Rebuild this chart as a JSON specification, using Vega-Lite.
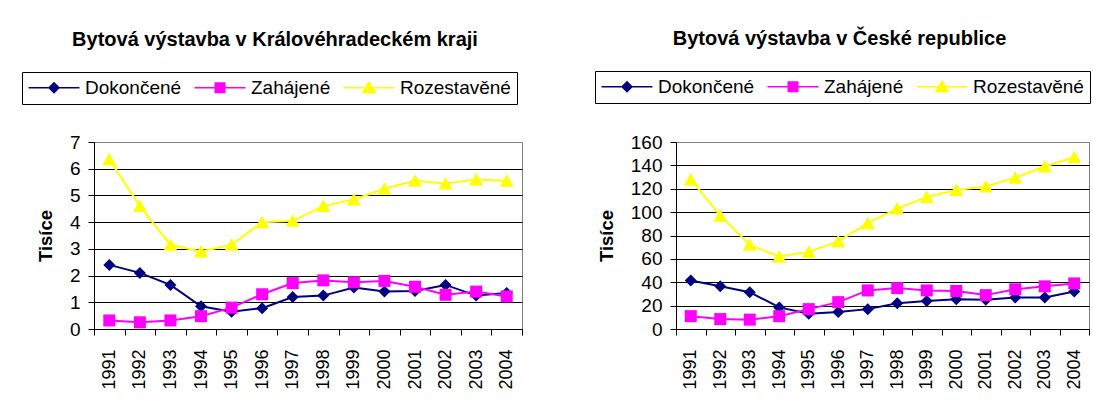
{
  "$schema": "https://vega.github.io/schema/vega-lite/v6.json",
  "padding": {"left": 21, "top": 28, "right": 0, "bottom": 0},
  "background": "white",
  "datasets": {
    "all": [
      {"region": "KHK", "year": "1991", "series": "Dokončené", "value": 2.4},
      {"region": "KHK", "year": "1992", "series": "Dokončené", "value": 2.1},
      {"region": "KHK", "year": "1993", "series": "Dokončené", "value": 1.65},
      {"region": "KHK", "year": "1994", "series": "Dokončené", "value": 0.85},
      {"region": "KHK", "year": "1995", "series": "Dokončené", "value": 0.65},
      {"region": "KHK", "year": "1996", "series": "Dokončené", "value": 0.78},
      {"region": "KHK", "year": "1997", "series": "Dokončené", "value": 1.2},
      {"region": "KHK", "year": "1998", "series": "Dokončené", "value": 1.25},
      {"region": "KHK", "year": "1999", "series": "Dokončené", "value": 1.55},
      {"region": "KHK", "year": "2000", "series": "Dokončené", "value": 1.4},
      {"region": "KHK", "year": "2001", "series": "Dokončené", "value": 1.42},
      {"region": "KHK", "year": "2002", "series": "Dokončené", "value": 1.65},
      {"region": "KHK", "year": "2003", "series": "Dokončené", "value": 1.25},
      {"region": "KHK", "year": "2004", "series": "Dokončené", "value": 1.35},
      {"region": "KHK", "year": "1991", "series": "Zahájené", "value": 0.32},
      {"region": "KHK", "year": "1992", "series": "Zahájené", "value": 0.25},
      {"region": "KHK", "year": "1993", "series": "Zahájené", "value": 0.32},
      {"region": "KHK", "year": "1994", "series": "Zahájené", "value": 0.48},
      {"region": "KHK", "year": "1995", "series": "Zahájené", "value": 0.8},
      {"region": "KHK", "year": "1996", "series": "Zahájené", "value": 1.3},
      {"region": "KHK", "year": "1997", "series": "Zahájené", "value": 1.72},
      {"region": "KHK", "year": "1998", "series": "Zahájené", "value": 1.82},
      {"region": "KHK", "year": "1999", "series": "Zahájené", "value": 1.75},
      {"region": "KHK", "year": "2000", "series": "Zahájené", "value": 1.8},
      {"region": "KHK", "year": "2001", "series": "Zahájené", "value": 1.58},
      {"region": "KHK", "year": "2002", "series": "Zahájené", "value": 1.28},
      {"region": "KHK", "year": "2003", "series": "Zahájené", "value": 1.4},
      {"region": "KHK", "year": "2004", "series": "Zahájené", "value": 1.22},
      {"region": "KHK", "year": "1991", "series": "Rozestavěné", "value": 6.35},
      {"region": "KHK", "year": "1992", "series": "Rozestavěné", "value": 4.6},
      {"region": "KHK", "year": "1993", "series": "Rozestavěné", "value": 3.15},
      {"region": "KHK", "year": "1994", "series": "Rozestavěné", "value": 2.9},
      {"region": "KHK", "year": "1995", "series": "Rozestavěné", "value": 3.15},
      {"region": "KHK", "year": "1996", "series": "Rozestavěné", "value": 4.0},
      {"region": "KHK", "year": "1997", "series": "Rozestavěné", "value": 4.05},
      {"region": "KHK", "year": "1998", "series": "Rozestavěné", "value": 4.6},
      {"region": "KHK", "year": "1999", "series": "Rozestavěné", "value": 4.85},
      {"region": "KHK", "year": "2000", "series": "Rozestavěné", "value": 5.25},
      {"region": "KHK", "year": "2001", "series": "Rozestavěné", "value": 5.55},
      {"region": "KHK", "year": "2002", "series": "Rozestavěné", "value": 5.45},
      {"region": "KHK", "year": "2003", "series": "Rozestavěné", "value": 5.6},
      {"region": "KHK", "year": "2004", "series": "Rozestavěné", "value": 5.55},
      {"region": "CR", "year": "1991", "series": "Dokončené", "value": 41.5},
      {"region": "CR", "year": "1992", "series": "Dokončené", "value": 36.5},
      {"region": "CR", "year": "1993", "series": "Dokončené", "value": 31.5},
      {"region": "CR", "year": "1994", "series": "Dokončené", "value": 18.5},
      {"region": "CR", "year": "1995", "series": "Dokončené", "value": 13},
      {"region": "CR", "year": "1996", "series": "Dokončené", "value": 14.5},
      {"region": "CR", "year": "1997", "series": "Dokončené", "value": 17},
      {"region": "CR", "year": "1998", "series": "Dokončené", "value": 22},
      {"region": "CR", "year": "1999", "series": "Dokončené", "value": 24},
      {"region": "CR", "year": "2000", "series": "Dokončené", "value": 25.5},
      {"region": "CR", "year": "2001", "series": "Dokončené", "value": 25},
      {"region": "CR", "year": "2002", "series": "Dokončené", "value": 27},
      {"region": "CR", "year": "2003", "series": "Dokončené", "value": 27},
      {"region": "CR", "year": "2004", "series": "Dokončené", "value": 32},
      {"region": "CR", "year": "1991", "series": "Zahájené", "value": 11},
      {"region": "CR", "year": "1992", "series": "Zahájené", "value": 8.5},
      {"region": "CR", "year": "1993", "series": "Zahájené", "value": 8},
      {"region": "CR", "year": "1994", "series": "Zahájené", "value": 11},
      {"region": "CR", "year": "1995", "series": "Zahájené", "value": 17},
      {"region": "CR", "year": "1996", "series": "Zahájené", "value": 23},
      {"region": "CR", "year": "1997", "series": "Zahájené", "value": 33},
      {"region": "CR", "year": "1998", "series": "Zahájené", "value": 35},
      {"region": "CR", "year": "1999", "series": "Zahájené", "value": 33},
      {"region": "CR", "year": "2000", "series": "Zahájené", "value": 32.5},
      {"region": "CR", "year": "2001", "series": "Zahájené", "value": 29},
      {"region": "CR", "year": "2002", "series": "Zahájené", "value": 34},
      {"region": "CR", "year": "2003", "series": "Zahájené", "value": 36.5},
      {"region": "CR", "year": "2004", "series": "Zahájené", "value": 39},
      {"region": "CR", "year": "1991", "series": "Rozestavěné", "value": 128},
      {"region": "CR", "year": "1992", "series": "Rozestavěné", "value": 97},
      {"region": "CR", "year": "1993", "series": "Rozestavěné", "value": 72},
      {"region": "CR", "year": "1994", "series": "Rozestavěné", "value": 62},
      {"region": "CR", "year": "1995", "series": "Rozestavěné", "value": 66},
      {"region": "CR", "year": "1996", "series": "Rozestavěné", "value": 75},
      {"region": "CR", "year": "1997", "series": "Rozestavěné", "value": 90.5},
      {"region": "CR", "year": "1998", "series": "Rozestavěné", "value": 103},
      {"region": "CR", "year": "1999", "series": "Rozestavěné", "value": 113},
      {"region": "CR", "year": "2000", "series": "Rozestavěné", "value": 119},
      {"region": "CR", "year": "2001", "series": "Rozestavěné", "value": 122},
      {"region": "CR", "year": "2002", "series": "Rozestavěné", "value": 129.5},
      {"region": "CR", "year": "2003", "series": "Rozestavěné", "value": 139},
      {"region": "CR", "year": "2004", "series": "Rozestavěné", "value": 147}
    ]
  },
  "data": {"name": "all"},
  "spacing": 71,
  "resolve": {"scale": {"y": "independent"}, "legend": {"color": "independent", "shape": "independent"}},
  "hconcat": [
    {
      "width": 428,
      "height": 187,
      "title": {"text": "Bytová výstavba v Královéhradeckém kraji", "anchor": "middle", "frame": "group", "dx": -33},
      "transform": [{"filter": "datum.region === 'KHK'"}],
      "encoding": {
        "x": {"field": "year", "type": "ordinal", "bandPosition": 0.5, "scale": {"type": "band", "paddingInner": 0, "paddingOuter": 0}, "axis": {"title": null}},
        "y": {"field": "value", "type": "quantitative", "scale": {"domain": [0, 7], "nice": false}, "axis": {"title": "Tisíce", "values": [0, 1, 2, 3, 4, 5, 6, 7], "titlePadding": 14, "gridColor": {"condition": {"test": "datum.value >= 7", "value": "#808080"}, "value": "black"}}},
        "color": {
          "field": "series", "type": "nominal",
          "scale": {"domain": ["Dokončené", "Zahájené", "Rozestavěné"], "range": ["#000080", "#FF00FF", "#FFFF00"]},
          "legend": {"orient": "none", "legendX": -72, "legendY": -70}
        }
      },
      "layer": [
        {"mark": {"type": "line", "strokeWidth": 2}},
        {"transform": [{"filter": {"field": "series", "equal": "Dokončené"}}], "mark": {"type": "point", "shape": "M0,-1.2L1.2,0L0,1.2L-1.2,0Z", "filled": true, "opacity": 1, "size": 100, "strokeWidth": 0}},
        {"transform": [{"filter": {"field": "series", "equal": "Zahájené"}}], "mark": {"type": "point", "shape": "M-1.2,-1.2H1.2V1.2H-1.2Z", "filled": true, "opacity": 1, "size": 100, "strokeWidth": 0}},
        {"transform": [{"filter": {"field": "series", "equal": "Rozestavěné"}}], "mark": {"type": "point", "shape": "M0,-1.3L1.4,1.2H-1.4Z", "filled": true, "opacity": 1, "size": 100, "strokeWidth": 0}},
        {
          "transform": [{"filter": "false"}],
          "mark": {"type": "point", "filled": true, "opacity": 1, "size": 100, "strokeWidth": 0},
          "encoding": {
            "shape": {
              "field": "series", "type": "nominal",
              "scale": {"domain": ["Dokončené", "Zahájené", "Rozestavěné"], "range": ["M-1.8,-0.16H8.4V0.16H-1.8ZM3.3,-1.2L4.5,0L3.3,1.2L2.1,0Z", "M-1.8,-0.16H8.4V0.16H-1.8ZM2.2,-1.1H4.4V1.1H2.2Z", "M-1.8,-0.16H8.4V0.16H-1.8ZM3.3,-1.4L4.8,1.1H1.8Z"]},
              "legend": {"orient": "none", "legendX": -72, "legendY": -70}
            }
          }
        }
      ]
    },
    {
      "width": 413,
      "height": 187,
      "title": {"text": "Bytová výstavba v České republice", "anchor": "middle", "frame": "group", "dx": -43},
      "transform": [{"filter": "datum.region === 'CR'"}],
      "encoding": {
        "x": {"field": "year", "type": "ordinal", "bandPosition": 0.5, "scale": {"type": "band", "paddingInner": 0, "paddingOuter": 0}, "axis": {"title": null}},
        "y": {"field": "value", "type": "quantitative", "scale": {"domain": [0, 160], "nice": false}, "axis": {"title": "Tisíce", "values": [0, 20, 40, 60, 80, 100, 120, 140, 160], "titlePadding": 14, "gridColor": {"condition": {"test": "datum.value >= 160", "value": "#808080"}, "value": "black"}}},
        "color": {
          "field": "series", "type": "nominal",
          "scale": {"domain": ["Dokončené", "Zahájené", "Rozestavěné"], "range": ["#000080", "#FF00FF", "#FFFF00"]},
          "legend": {"orient": "none", "legendX": -81, "legendY": -71}
        }
      },
      "layer": [
        {"mark": {"type": "line", "strokeWidth": 2}},
        {"transform": [{"filter": {"field": "series", "equal": "Dokončené"}}], "mark": {"type": "point", "shape": "M0,-1.2L1.2,0L0,1.2L-1.2,0Z", "filled": true, "opacity": 1, "size": 100, "strokeWidth": 0}},
        {"transform": [{"filter": {"field": "series", "equal": "Zahájené"}}], "mark": {"type": "point", "shape": "M-1.2,-1.2H1.2V1.2H-1.2Z", "filled": true, "opacity": 1, "size": 100, "strokeWidth": 0}},
        {"transform": [{"filter": {"field": "series", "equal": "Rozestavěné"}}], "mark": {"type": "point", "shape": "M0,-1.3L1.4,1.2H-1.4Z", "filled": true, "opacity": 1, "size": 100, "strokeWidth": 0}},
        {
          "transform": [{"filter": "false"}],
          "mark": {"type": "point", "filled": true, "opacity": 1, "size": 100, "strokeWidth": 0},
          "encoding": {
            "shape": {
              "field": "series", "type": "nominal",
              "scale": {"domain": ["Dokončené", "Zahájené", "Rozestavěné"], "range": ["M-1.8,-0.16H8.4V0.16H-1.8ZM3.3,-1.2L4.5,0L3.3,1.2L2.1,0Z", "M-1.8,-0.16H8.4V0.16H-1.8ZM2.2,-1.1H4.4V1.1H2.2Z", "M-1.8,-0.16H8.4V0.16H-1.8ZM3.3,-1.4L4.8,1.1H1.8Z"]},
              "legend": {"orient": "none", "legendX": -81, "legendY": -71}
            }
          }
        }
      ]
    }
  ],
  "config": {
    "font": "Liberation Sans",
    "view": {"stroke": "#808080", "strokeWidth": 1},
    "title": {"font": "Liberation Sans", "fontSize": 20, "fontWeight": "bold", "color": "black", "offset": 22},
    "axis": {
      "labelFont": "Liberation Sans", "labelColor": "black", "domainColor": "black", "tickColor": "black",
      "titleFont": "Liberation Sans", "titleColor": "black", "titleFontWeight": "bold"
    },
    "axisY": {
      "labelFontSize": 19, "tickSize": 6, "labelPadding": 8, "titleFontSize": 18.5, "titlePadding": 10,
      "grid": true, "gridOpacity": 1, "gridWidth": 1
    },
    "axisX": {
      "labelFontSize": 18, "labelAngle": -90, "tickSize": 6, "labelPadding": 14, "tickBand": "extent", "grid": false
    },
    "legend": {
      "direction": "horizontal", "title": null, "strokeColor": "black", "fillColor": "white", "padding": 6,
      "labelFont": "Liberation Sans", "labelFontSize": 19, "labelColor": "black", "labelLimit": 0,
      "symbolSize": 100, "labelOffset": 38, "columnPadding": 12, "symbolOpacity": 1, "symbolStrokeWidth": 0
    }
  }
}
